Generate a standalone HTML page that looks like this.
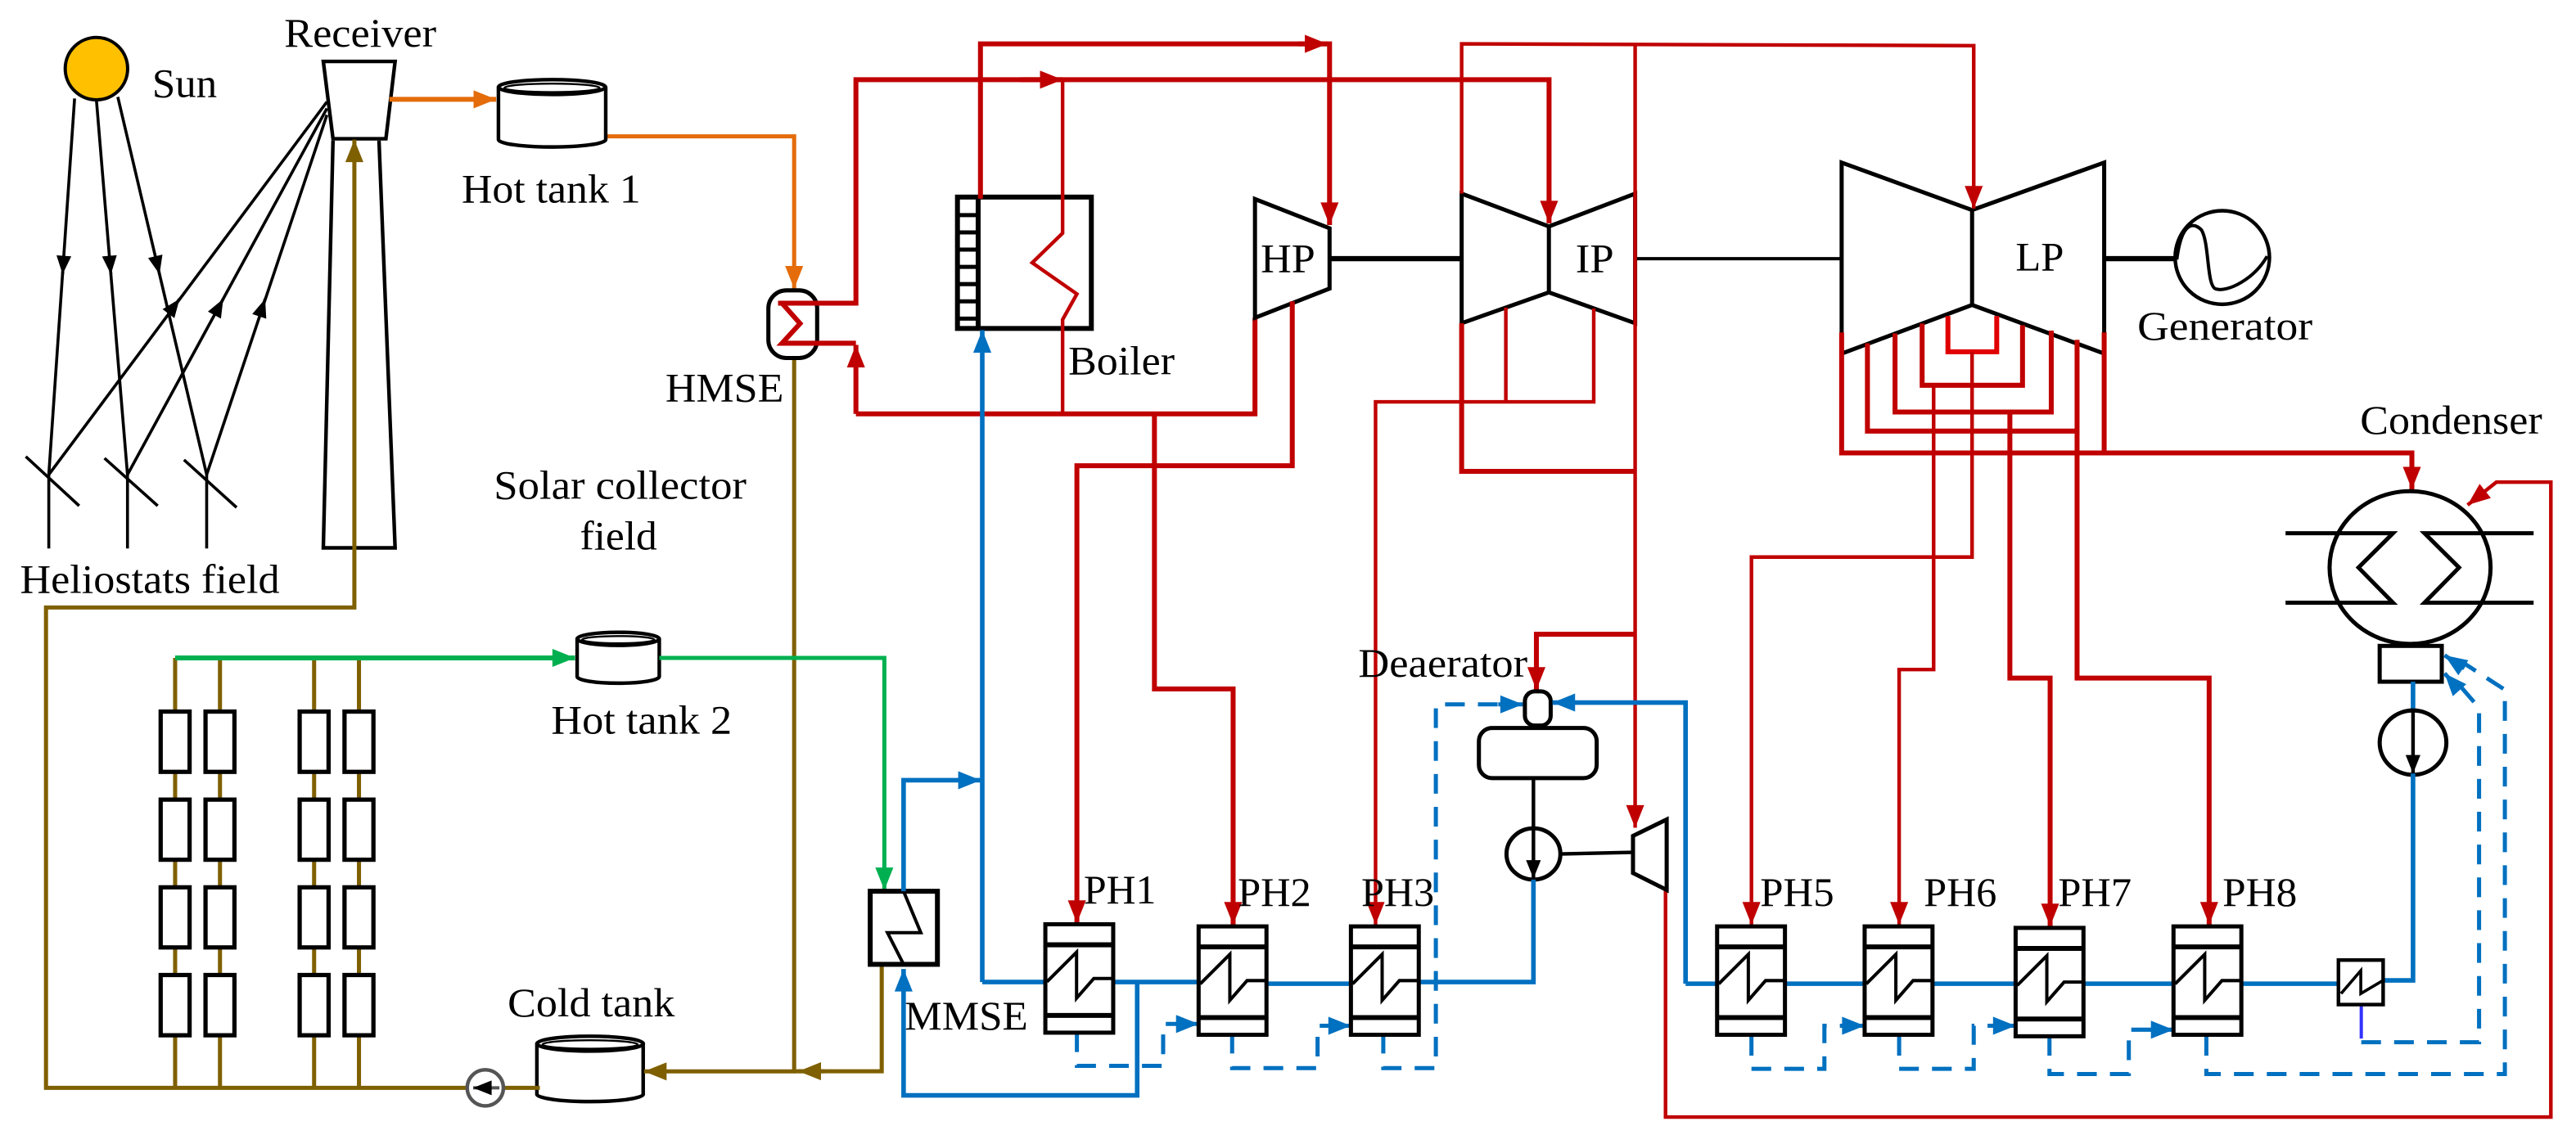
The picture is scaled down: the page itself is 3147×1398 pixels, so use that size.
<!DOCTYPE html>
<html><head><meta charset="utf-8"><style>
html,body{margin:0;padding:0;background:#fff}
svg{display:block}
text{font-family:"Liberation Serif",serif;font-size:25px;fill:#000}
</style></head><body>
<svg width="3147" height="1398" viewBox="0 0 1568 696.6" preserveAspectRatio="none" xmlns="http://www.w3.org/2000/svg">
<defs>
<marker id="aR" viewBox="0 0 10 8" refX="10" refY="4" markerWidth="14" markerHeight="11" markerUnits="userSpaceOnUse" orient="auto"><path d="M0,0L10,4L0,8z" fill="#C00000"/></marker>
<marker id="aB" viewBox="0 0 10 8" refX="10" refY="4" markerWidth="14" markerHeight="11" markerUnits="userSpaceOnUse" orient="auto"><path d="M0,0L10,4L0,8z" fill="#0070C0"/></marker>
<marker id="aG" viewBox="0 0 10 8" refX="10" refY="4" markerWidth="14" markerHeight="11" markerUnits="userSpaceOnUse" orient="auto"><path d="M0,0L10,4L0,8z" fill="#00B050"/></marker>
<marker id="aO" viewBox="0 0 10 8" refX="10" refY="4" markerWidth="14" markerHeight="11" markerUnits="userSpaceOnUse" orient="auto"><path d="M0,0L10,4L0,8z" fill="#E46C0A"/></marker>
<marker id="aN" viewBox="0 0 10 8" refX="10" refY="4" markerWidth="14" markerHeight="11" markerUnits="userSpaceOnUse" orient="auto"><path d="M0,0L10,4L0,8z" fill="#7F6000"/></marker>
<marker id="aK" viewBox="0 0 10 8" refX="10" refY="4" markerWidth="12" markerHeight="9" markerUnits="userSpaceOnUse" orient="auto"><path d="M0,0L10,4L0,8z" fill="#000"/></marker>
<g id="ph">
<rect x="0" y="0" width="41.3" height="66" fill="#fff" stroke="#000" stroke-width="2.5"/>
<line x1="0" y1="12.5" x2="41.3" y2="12.5" stroke="#000" stroke-width="3"/>
<line x1="0" y1="55.5" x2="41.3" y2="55.5" stroke="#000" stroke-width="3"/>
<path d="M1,35L19,17V45L29.5,33H41.3" fill="none" stroke="#000" stroke-width="2"/>
</g>
</defs>

<g fill="none" stroke-linejoin="miter">
<circle cx="58.7" cy="41.8" r="19" fill="#FFC000" stroke="#000" stroke-width="2"/>
<g stroke="#000" stroke-width="1.8">
<line x1="45.4" y1="60" x2="29.7" y2="289"/>
<line x1="58.7" y1="61" x2="77.6" y2="289"/>
<line x1="71.7" y1="59" x2="125.8" y2="289"/>
<line x1="29.7" y1="289" x2="199" y2="62"/>
<line x1="77.6" y1="289" x2="199" y2="66"/>
<line x1="125.8" y1="289" x2="199" y2="70"/>
<line x1="15.7" y1="278" x2="48.2" y2="308"/>
<line x1="63.6" y1="279" x2="96" y2="308"/>
<line x1="112" y1="280" x2="144" y2="309"/>
<line x1="29.7" y1="289" x2="29.7" y2="334"/>
<line x1="77.6" y1="289" x2="77.6" y2="334"/>
<line x1="125.8" y1="289" x2="125.8" y2="334"/>
<line x1="38.8" y1="157" x2="38.1" y2="167" marker-end="url(#aK)"/>
<line x1="66.7" y1="157" x2="67.5" y2="167" marker-end="url(#aK)"/>
<line x1="94.8" y1="157.3" x2="97.1" y2="167" marker-end="url(#aK)"/>
<line x1="103.3" y1="190" x2="109.3" y2="182" marker-end="url(#aK)"/>
<line x1="131.1" y1="190.8" x2="135.9" y2="182" marker-end="url(#aK)"/>
<line x1="158.2" y1="191.5" x2="161.4" y2="182" marker-end="url(#aK)"/>
</g>
<path d="M196.8,37.4H240.5L234.9,84.5H202.7Z" stroke="#000" stroke-width="2.2" fill="#fff"/>
<path d="M202.7,85.6L196.8,333.6H240.5L230.7,85.6" stroke="#000" stroke-width="2.2"/>

<line x1="237" y1="60.5" x2="302" y2="60.5" stroke="#E46C0A" stroke-width="3" marker-end="url(#aO)"/>
<path d="M368.7,83H483.4V175.7" stroke="#E46C0A" stroke-width="2.5" marker-end="url(#aO)"/>

<path d="M303.4,53V85A32.6,4.5 0 0 0 368.7,85V53" stroke="#000" stroke-width="2.2" fill="#fff"/>
<ellipse cx="336" cy="53" rx="32.6" ry="4.5" stroke="#000" stroke-width="2.2" fill="#fff"/>
<ellipse cx="336" cy="53.5" rx="29" ry="2.6" stroke="#000" stroke-width="1.2"/>
<path d="M351.3,389V412A25,4 0 0 0 401.3,412V389" stroke="#000" stroke-width="2.2" fill="#fff"/>
<ellipse cx="376.3" cy="389" rx="25" ry="4" stroke="#000" stroke-width="2.2" fill="#fff"/>
<ellipse cx="376.3" cy="389.5" rx="22" ry="2.2" stroke="#000" stroke-width="1.2"/>
<path d="M326.8,635.5V666.5A32.4,4.5 0 0 0 391.5,666.5V635.5" stroke="#000" stroke-width="2.2" fill="#fff"/>
<ellipse cx="359.2" cy="635.5" rx="32.4" ry="4.5" stroke="#000" stroke-width="2.2" fill="#fff"/>
<ellipse cx="359.2" cy="636" rx="29" ry="2.6" stroke="#000" stroke-width="1.2"/>

<g stroke="#7F6000" stroke-width="2.5">
<path d="M215.7,333.6V369.9H28V662.4H290"/>
<line x1="215.7" y1="333.6" x2="215.7" y2="85" marker-end="url(#aN)"/>
<path d="M300,662.4H328.6"/>
<path d="M483.4,218V652.4H392" marker-end="url(#aN)"/>
<path d="M536.7,587.2V652.3H483.4"/>
<line x1="502" y1="652.3" x2="486" y2="652.3" marker-end="url(#aN)"/>
<path d="M106.6,400.6V662.4M133.9,400.6V662.4M191.2,400.6V662.4M218.5,400.6V662.4"/>
</g>
<circle cx="295.4" cy="662.4" r="11" stroke="#555" stroke-width="2.2" fill="#fff"/>
<line x1="304" y1="662.4" x2="288" y2="662.4" stroke="#555" stroke-width="2" marker-end="url(#aK)"/>
<g stroke="#000" stroke-width="2.6" fill="#fff">
<rect x="97.8" y="433.3" width="17.6" height="36.7"/><rect x="125.1" y="433.3" width="17.6" height="36.7"/><rect x="182.4" y="433.3" width="17.6" height="36.7"/><rect x="209.7" y="433.3" width="17.6" height="36.7"/>
<rect x="97.8" y="486.9" width="17.6" height="36.6"/><rect x="125.1" y="486.9" width="17.6" height="36.6"/><rect x="182.4" y="486.9" width="17.6" height="36.6"/><rect x="209.7" y="486.9" width="17.6" height="36.6"/>
<rect x="97.8" y="540.3" width="17.6" height="36.6"/><rect x="125.1" y="540.3" width="17.6" height="36.6"/><rect x="182.4" y="540.3" width="17.6" height="36.6"/><rect x="209.7" y="540.3" width="17.6" height="36.6"/>
<rect x="97.8" y="593.7" width="17.6" height="36.7"/><rect x="125.1" y="593.7" width="17.6" height="36.7"/><rect x="182.4" y="593.7" width="17.6" height="36.7"/><rect x="209.7" y="593.7" width="17.6" height="36.7"/>
</g>

<line x1="106.6" y1="400.6" x2="350" y2="400.6" stroke="#00B050" stroke-width="3" marker-end="url(#aG)"/>
<path d="M401.3,400.6H538.3V542" stroke="#00B050" stroke-width="2.5" marker-end="url(#aG)"/>

<rect x="467.7" y="176.8" width="29.7" height="41.2" rx="11" stroke="#000" stroke-width="2.5" fill="#fff"/>
<path d="M473.6,184.6H521V48.5H942.9V136" stroke="#C00000" stroke-width="3" marker-end="url(#aR)"/>
<path d="M476,184.6L487,197L476,209H521" stroke="#C00000" stroke-width="3"/>
<line x1="621" y1="48.5" x2="646.8" y2="48.5" stroke="#C00000" stroke-width="3" marker-end="url(#aR)"/>
<line x1="521" y1="252" x2="521" y2="210" stroke="#C00000" stroke-width="3" marker-end="url(#aR)"/>

<rect x="582.8" y="120" width="81.5" height="80" stroke="#000" stroke-width="3" fill="#fff"/>
<line x1="595.4" y1="120" x2="595.4" y2="200" stroke="#000" stroke-width="3"/>
<path d="M582.8,131H595.4M582.8,141.5H595.4M582.8,152H595.4M582.8,162.5H595.4M582.8,173H595.4M582.8,183.5H595.4M582.8,194H595.4" stroke="#000" stroke-width="2.5"/>
<path d="M646.8,48.5V142L628.3,160L655.5,179L646.8,194.6V252" stroke="#C00000" stroke-width="2.2"/>
<path d="M521,252H763.9V193.5" stroke="#C00000" stroke-width="3"/>
<path d="M596.8,121V26.7H809.3V137" stroke="#C00000" stroke-width="3" marker-end="url(#aR)"/>
<line x1="790" y1="26.7" x2="808" y2="26.7" stroke="#C00000" stroke-width="3" marker-end="url(#aR)"/>

<path d="M763.9,121.2L809.3,139V175.7L763.9,193.5Z" stroke="#000" stroke-width="2.5" fill="#fff"/>
<line x1="809.3" y1="157.5" x2="889.7" y2="157.5" stroke="#000" stroke-width="3.2"/>
<path d="M889.7,117.9L942.8,137.9L995.3,117.9V196.8L942.8,178L889.7,196.8Z" stroke="#000" stroke-width="2.5" fill="#fff"/>
<line x1="942.8" y1="137.9" x2="942.8" y2="178" stroke="#000" stroke-width="2.5"/>
<line x1="995.3" y1="157.5" x2="1121" y2="157.5" stroke="#000" stroke-width="2"/>
<path d="M1121,99L1200.4,127.9L1280.8,99V215.3L1200.4,185.7L1121,215.3Z" stroke="#000" stroke-width="2.5" fill="#fff"/>
<line x1="1200.4" y1="127.9" x2="1200.4" y2="185.7" stroke="#000" stroke-width="2.5"/>
<line x1="1280.8" y1="157.5" x2="1324.8" y2="157.5" stroke="#000" stroke-width="3.2"/>
<ellipse cx="1352.7" cy="156.8" rx="28.7" ry="28.5" stroke="#000" stroke-width="2.2" fill="#fff"/>
<path d="M1325,158C1328,135 1335,135 1340,140C1345,148 1343,175 1349,176C1356,178 1372,170 1380,156" stroke="#000" stroke-width="2"/>

<g stroke="#C00000" stroke-width="3">
<path d="M786.6,183.5V283.6H655.5V562" marker-end="url(#aR)"/>
<path d="M702.7,252V419.5H750.6V563" marker-end="url(#aR)"/>
<path d="M889.7,117.9V26.7L1201.4,27.8V127" stroke-width="2.2" marker-end="url(#aR)"/>
<path d="M889.7,196.8V287H995.3"/>
<path d="M995.3,27V504" stroke-width="2.2" marker-end="url(#aR)"/>
<path d="M995.3,386.2H935.2V420" marker-end="url(#aR)"/>
<path d="M916.6,187.3V244.7M970.1,187.8V244.7H837.3V563" stroke-width="2.2" marker-end="url(#aR)"/>
<path d="M1013.8,541.9V680.2H1552.7V293.6H1519.5L1502,307.5" stroke-width="2.2" marker-end="url(#aR)"/>
<path d="M1121,202.4V275.8H1468.1V298" marker-end="url(#aR)"/>
<path d="M1280.8,202.4V275.8"/>
<path d="M1136.7,209V262.5H1264.3V206.9"/>
<path d="M1153.5,203V250.9H1248.6V201.3"/>
<path d="M1170,197V234.6H1231.1V198"/>
<path d="M1185.7,192.4V214.2H1215.4V192.4" stroke="#E00000"/>
<path d="M1200.4,214.2V339.2H1066.1V563" stroke-width="2.2" marker-end="url(#aR)"/>
<path d="M1177,234.6V407.7H1156V563" stroke-width="2.2" marker-end="url(#aR)"/>
<path d="M1223.4,250.9V412.9H1247.9V564" marker-end="url(#aR)"/>
<path d="M1264.3,262.5V412.9H1344.7V563" marker-end="url(#aR)"/>
</g>

<ellipse cx="1467" cy="345.6" rx="49" ry="46.5" stroke="#000" stroke-width="2.5" fill="#fff"/>
<path d="M1391.2,324.7H1456.6L1435.6,345.6L1456.6,367H1391.2" stroke="#000" stroke-width="2.5"/>
<path d="M1542.2,324.7H1475.8L1496.8,345.6L1475.8,367H1542.2" stroke="#000" stroke-width="2.5"/>
<rect x="1448.5" y="393.3" width="37.8" height="21.8" stroke="#000" stroke-width="2.5" fill="#fff"/>
<line x1="1468.8" y1="415.1" x2="1468.8" y2="432.2" stroke="#0070C0" stroke-width="2.8"/>
<ellipse cx="1468.8" cy="452.2" rx="20.3" ry="19.6" stroke="#000" stroke-width="2.5" fill="#fff"/>
<line x1="1468.8" y1="432.6" x2="1468.8" y2="471" stroke="#000" stroke-width="2.2" marker-end="url(#aK)"/>

<rect x="928.2" y="421" width="15.7" height="20.8" rx="6" stroke="#000" stroke-width="2.5" fill="#fff"/>
<rect x="900.2" y="443.3" width="71.7" height="30.5" rx="8" stroke="#000" stroke-width="2.5" fill="#fff"/>
<ellipse cx="933.4" cy="520" rx="16.4" ry="15.6" stroke="#000" stroke-width="2.5" fill="#fff"/>
<line x1="933.4" y1="473.8" x2="933.4" y2="535" stroke="#000" stroke-width="2.2" marker-end="url(#aK)"/>
<line x1="949.8" y1="520" x2="994" y2="519" stroke="#000" stroke-width="2.2"/>
<path d="M994,509L1014.5,499V541.9L994,531.6Z" stroke="#000" stroke-width="2.5" fill="#fff"/>

<rect x="529.7" y="542.7" width="40.9" height="44.5" stroke="#000" stroke-width="3" fill="#fff"/>
<path d="M550,542.7L560.5,567.9H540.2L550,587.2" stroke="#000" stroke-width="2"/>

<g stroke="#0070C0" stroke-width="2.8">
<path d="M597.9,598V201" marker-end="url(#aB)"/>
<path d="M597.9,598H636.3M677.6,598H729.6M770.9,599H822.3M863.5,598H933.4V535.6"/>
<path d="M550,542.7V475.1H597" marker-end="url(#aB)"/>
<path d="M692.2,598V667H550V590" marker-end="url(#aB)"/>
<path d="M1026,599V427.8H945" marker-end="url(#aB)"/>
<path d="M1026,599H1045.2M1087.1,599H1135M1175.9,599H1226.9M1268.5,599H1323M1364,599H1423.4M1450.6,597H1468.8V471"/>
</g>
<g stroke="#0070C0" stroke-width="2.5" stroke-dasharray="12,8">
<path d="M655.5,628.6V649H708V623.5H718"/>
<path d="M750,629.5V650.4H802V624.6H810"/>
<path d="M842,629.5V650.4H874V428.9H914"/>
<path d="M1066.1,630.8V650.8H1110.5V624.6H1123"/>
<path d="M1156,630.8V650.8H1201.4V624.6H1215"/>
<path d="M1247.5,630.8V654H1295.8V627H1311"/>
<path d="M1343,630.8V654H1524.7V420L1500,404"/>
<path d="M1437.3,634.6H1509V431L1496,416"/>
</g>
<g stroke="#0070C0" stroke-width="2.5">
<line x1="716" y1="623.5" x2="729.6" y2="623.5" marker-end="url(#aB)"/>
<line x1="808" y1="624.6" x2="822.3" y2="624.6" marker-end="url(#aB)"/>
<line x1="912" y1="428.9" x2="927" y2="428.9" marker-end="url(#aB)"/>
<line x1="1121" y1="624.6" x2="1135" y2="624.6" marker-end="url(#aB)"/>
<line x1="1213" y1="624.6" x2="1226.9" y2="624.6" marker-end="url(#aB)"/>
<line x1="1309" y1="627" x2="1323" y2="627" marker-end="url(#aB)"/>
<line x1="1500" y1="407" x2="1488" y2="399" marker-end="url(#aB)"/>
<line x1="1496" y1="419" x2="1488" y2="410" marker-end="url(#aB)"/>
</g>
<line x1="1437.3" y1="611.7" x2="1437.3" y2="632.4" stroke="#3333FF" stroke-width="2"/>

<use href="#ph" x="636.3" y="562.8"/>
<use href="#ph" x="729.6" y="564.1"/>
<use href="#ph" x="822.3" y="564.1"/>
<use href="#ph" x="1045.2" y="564.1"/>
<use href="#ph" x="1135" y="564.1"/>
<use href="#ph" x="1226.9" y="565"/>
<use href="#ph" x="1323" y="564.1"/>
<rect x="1423.4" y="584.6" width="27.2" height="27.1" stroke="#000" stroke-width="2.2" fill="#fff"/>
<path d="M1425,605L1437,591V605L1450.6,597" stroke="#000" stroke-width="1.8"/>
</g>

<text x="92.6" y="59" textLength="39.5" lengthAdjust="spacingAndGlyphs">Sun</text>
<text x="173" y="28.5" textLength="92.6" lengthAdjust="spacingAndGlyphs">Receiver</text>
<text x="281" y="123.4" textLength="109" lengthAdjust="spacingAndGlyphs">Hot tank 1</text>
<text x="405" y="244.5" textLength="72" lengthAdjust="spacingAndGlyphs">HMSE</text>
<text x="12.2" y="361" textLength="158" lengthAdjust="spacingAndGlyphs">Heliostats field</text>
<text x="300.6" y="303.6" textLength="153.8" lengthAdjust="spacingAndGlyphs">Solar collector</text>
<text x="353" y="334.5" textLength="47" lengthAdjust="spacingAndGlyphs">field</text>
<text x="335.5" y="446.6" textLength="110" lengthAdjust="spacingAndGlyphs">Hot tank 2</text>
<text x="309" y="618.8" textLength="101.7" lengthAdjust="spacingAndGlyphs">Cold tank</text>
<text x="650.3" y="228" textLength="64.7" lengthAdjust="spacingAndGlyphs">Boiler</text>
<text x="767.4" y="165.7" textLength="33.2" lengthAdjust="spacingAndGlyphs">HP</text>
<text x="959" y="165.7" textLength="23.4" lengthAdjust="spacingAndGlyphs">IP</text>
<text x="1226.9" y="164.6" textLength="29.4" lengthAdjust="spacingAndGlyphs">LP</text>
<text x="1301" y="206.9" textLength="106.6" lengthAdjust="spacingAndGlyphs">Generator</text>
<text x="1436.6" y="264.2" textLength="110.8" lengthAdjust="spacingAndGlyphs">Condenser</text>
<text x="550.7" y="626.8" textLength="75" lengthAdjust="spacingAndGlyphs">MMSE</text>
<text x="826.8" y="412.2" textLength="103" lengthAdjust="spacingAndGlyphs">Deaerator</text>
<text x="659.7" y="550" textLength="44" lengthAdjust="spacingAndGlyphs">PH1</text>
<text x="753.4" y="551.6" textLength="44.7" lengthAdjust="spacingAndGlyphs">PH2</text>
<text x="828.6" y="551.6" textLength="44.4" lengthAdjust="spacingAndGlyphs">PH3</text>
<text x="1071.4" y="551.6" textLength="45" lengthAdjust="spacingAndGlyphs">PH5</text>
<text x="1171" y="551.6" textLength="44.4" lengthAdjust="spacingAndGlyphs">PH6</text>
<text x="1252.8" y="551.6" textLength="44.7" lengthAdjust="spacingAndGlyphs">PH7</text>
<text x="1352.8" y="551.6" textLength="45.4" lengthAdjust="spacingAndGlyphs">PH8</text>
</svg>
</body></html>
